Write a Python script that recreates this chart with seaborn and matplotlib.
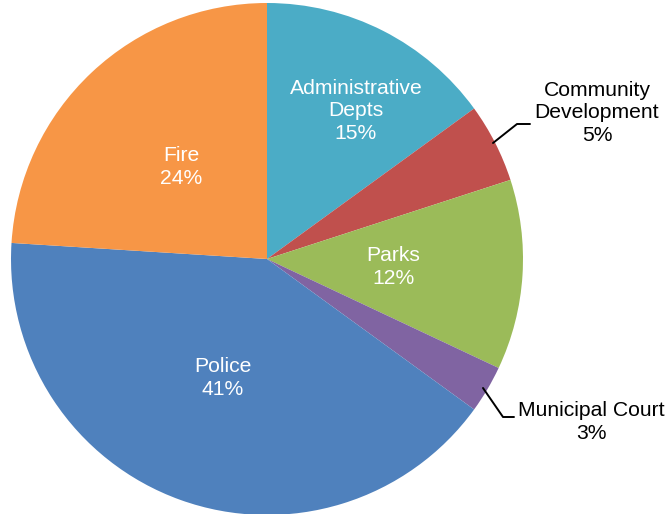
import matplotlib
matplotlib.use("Agg")
import matplotlib.pyplot as plt
import seaborn as sns

categories = ["Administrative\nDepts", "Community\nDevelopment", "Parks",
              "Municipal Court", "Police", "Fire"]
shares = [15, 5, 12, 3, 41, 24]
colors = ["#4BACC6", "#C0504D", "#9BBB59", "#8064A2", "#4F81BD", "#F79646"]

sns.set_theme(style="white")
plt.rcParams["font.family"] = ["Liberation Sans", "DejaVu Sans"]

W, H = 668, 514
fig = plt.figure(figsize=(W / 100, H / 100), dpi=100)
ax = fig.add_axes([0, 0, 1, 1])

cx, cy, r = 267, H - 259, 256
palette = sns.color_palette(colors)
wedges, _ = ax.pie(shares, colors=palette, startangle=90, counterclock=False,
                   center=(cx, cy), radius=r, frame=True,
                   wedgeprops=dict(linewidth=0))
ax.set_xlim(0, W)
ax.set_ylim(0, H)
ax.set_aspect("auto")
ax.axis("off")

fs = 15.2
ls = 1.26
inside = {0: (356, 111), 2: (393, 267), 4: (223, 378), 5: (181, 167)}
for i, (x, y) in inside.items():
    ax.text(x, H - y, f"{categories[i]}\n{shares[i]}%", color="white",
            fontsize=fs, ha="center", va="center", linespacing=ls)

# outside labels with leader lines
ax.text(597, H - 113, f"{categories[1]}\n{shares[1]}%", color="black",
        fontsize=fs, ha="center", va="center", linespacing=ls)
ax.plot([493, 517, 530], [H - 143, H - 124, H - 124], color="black", lw=1.4)

ax.text(591, H - 422, f"{categories[3]}\n{shares[3]}%", color="black",
        fontsize=fs, ha="center", va="center", linespacing=ls)
ax.plot([483, 503, 514], [H - 388, H - 417, H - 417], color="black", lw=1.4)

fig.savefig("out.png", dpi=100)
